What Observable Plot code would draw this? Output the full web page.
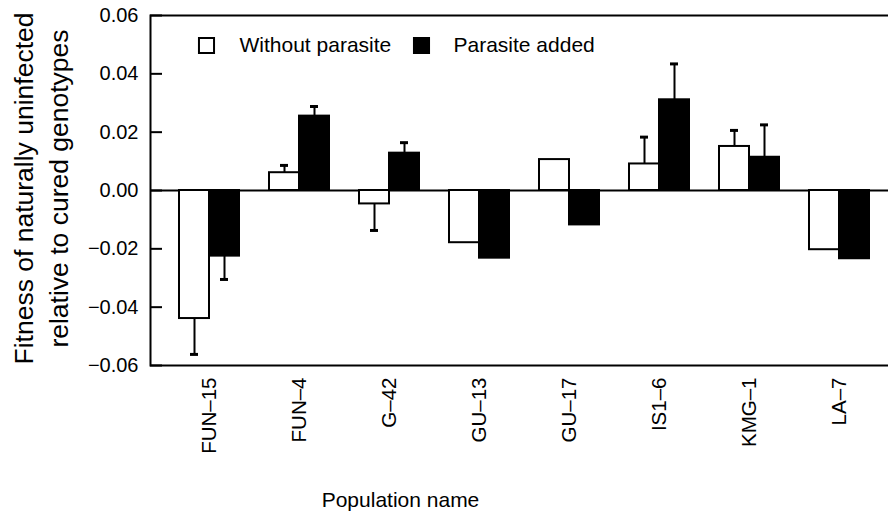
<!DOCTYPE html>
<html><head><meta charset="utf-8">
<script src="https://cdn.jsdelivr.net/npm/d3@7"></script>
<script src="https://cdn.jsdelivr.net/npm/@observablehq/plot@0.6"></script>
<style>
body{margin:0;background:#fff;overflow:hidden}
svg{overflow:hidden}
</style>
</head><body><div id="chart"></div>
<script>
const populations = ["FUN–15","FUN–4","G–42","GU–13","GU–17","IS1–6","KMG–1","LA–7"];
const seriesNames = ["Without parasite","Parasite added"];
const withoutParasite    = [-0.0439, 0.0061, -0.0046, -0.0179, 0.0106, 0.0091, 0.0151, -0.0203];
const withoutParasiteErr = [ 0.0123, 0.0025,  0.0091,  null,    null,   0.0092, 0.0055,  null];
const parasiteAdded      = [-0.0225, 0.0255,  0.0128, -0.0232, -0.0118, 0.0311, 0.0114, -0.0234];
const parasiteAddedErr   = [ 0.0080, 0.0033,  0.0036,  null,    null,   0.0123, 0.0111,  null];
const yTicks = [-0.06, -0.04, -0.02, 0, 0.02, 0.04, 0.06];
const xTitle = "Population name";
const yTitle = "Fitness of naturally uninfected\nrelative to cured genotypes";

const rows = populations.map((p, i) => ({
  pop: p,
  w: withoutParasite[i], wErr: withoutParasiteErr[i],
  a: parasiteAdded[i], aErr: parasiteAddedErr[i]
}));
const wRows = rows.filter(d => d.wErr != null).map(d => ({...d, end: d.w + Math.sign(d.w) * d.wErr}));
const aRows = rows.filter(d => d.aErr != null).map(d => ({...d, end: d.a + Math.sign(d.a) * d.aErr}));

const font = "'Liberation Sans', Arial, Helvetica, sans-serif";

const chart = Plot.plot({
  width: 888,
  height: 515,
  marginLeft: 150,
  marginRight: -10,
  marginTop: 15,
  marginBottom: 150,
  style: {fontFamily: font, color: "black", background: "white"},
  x: {domain: populations, paddingInner: 1/3, paddingOuter: 0.322, axis: null},
  y: {domain: [-0.06, 0.06], axis: null},
  marks: [
    Plot.frame({stroke: "black", strokeWidth: 2}),
    Plot.ruleY([0], {stroke: "black", strokeWidth: 2}),
    Plot.barY(rows, {x: "pop", y: "w", fill: "white", stroke: "black", strokeWidth: 2, insetRight: 30}),
    Plot.barY(rows, {x: "pop", y: "a", fill: "black", stroke: "black", strokeWidth: 2, insetLeft: 30}),
    Plot.ruleX(wRows, {x: "pop", y1: "w", y2: "end", dx: -15, stroke: "black", strokeWidth: 2}),
    Plot.ruleX(aRows, {x: "pop", y1: "a", y2: "end", dx: 15, stroke: "black", strokeWidth: 2}),
    Plot.tickY(wRows, {x: "pop", y: "end", insetLeft: 11, insetRight: 41, stroke: "black", strokeWidth: 3}),
    Plot.tickY(aRows, {x: "pop", y: "end", insetLeft: 41, insetRight: 11, stroke: "black", strokeWidth: 3}),
    Plot.tickY(yTicks, {y: d => d, insetRight: 736, stroke: "black", strokeWidth: 2}),
    Plot.axisY({ticks: yTicks, tickSize: 0, tickPadding: 12, tickFormat: d3.format(".2f"), fontSize: 20, label: null}),
    Plot.axisX({tickRotate: -90, tickSize: 0, tickPadding: 12, fontSize: 20.5, label: null}),
    Plot.text([yTitle], {frameAnchor: "left", rotate: -90, dx: -111, dy: -2, fontSize: 26.5, lineHeight: 1.3, lineAnchor: "middle", textAnchor: "middle"}),
    Plot.text([xTitle], {frameAnchor: "bottom", dx: -124, dy: 141, fontSize: 21, lineAnchor: "bottom"}),
    // legend
    Plot.dot([seriesNames[0]], {frameAnchor: "top-left", dx: 56, dy: 30, symbol: "square", r: 8.5, fill: "white", stroke: "black", strokeWidth: 2}),
    Plot.text([seriesNames[0]], {frameAnchor: "top-left", dx: 89, dy: 30, textAnchor: "start", lineAnchor: "middle", fontSize: 21}),
    Plot.dot([seriesNames[1]], {frameAnchor: "top-left", dx: 271, dy: 30, symbol: "square", r: 8.5, fill: "black", stroke: "black", strokeWidth: 2}),
    Plot.text([seriesNames[1]], {frameAnchor: "top-left", dx: 303, dy: 30, textAnchor: "start", lineAnchor: "middle", fontSize: 21})
  ]
});
document.getElementById("chart").appendChild(chart);
</script>
</body></html>
